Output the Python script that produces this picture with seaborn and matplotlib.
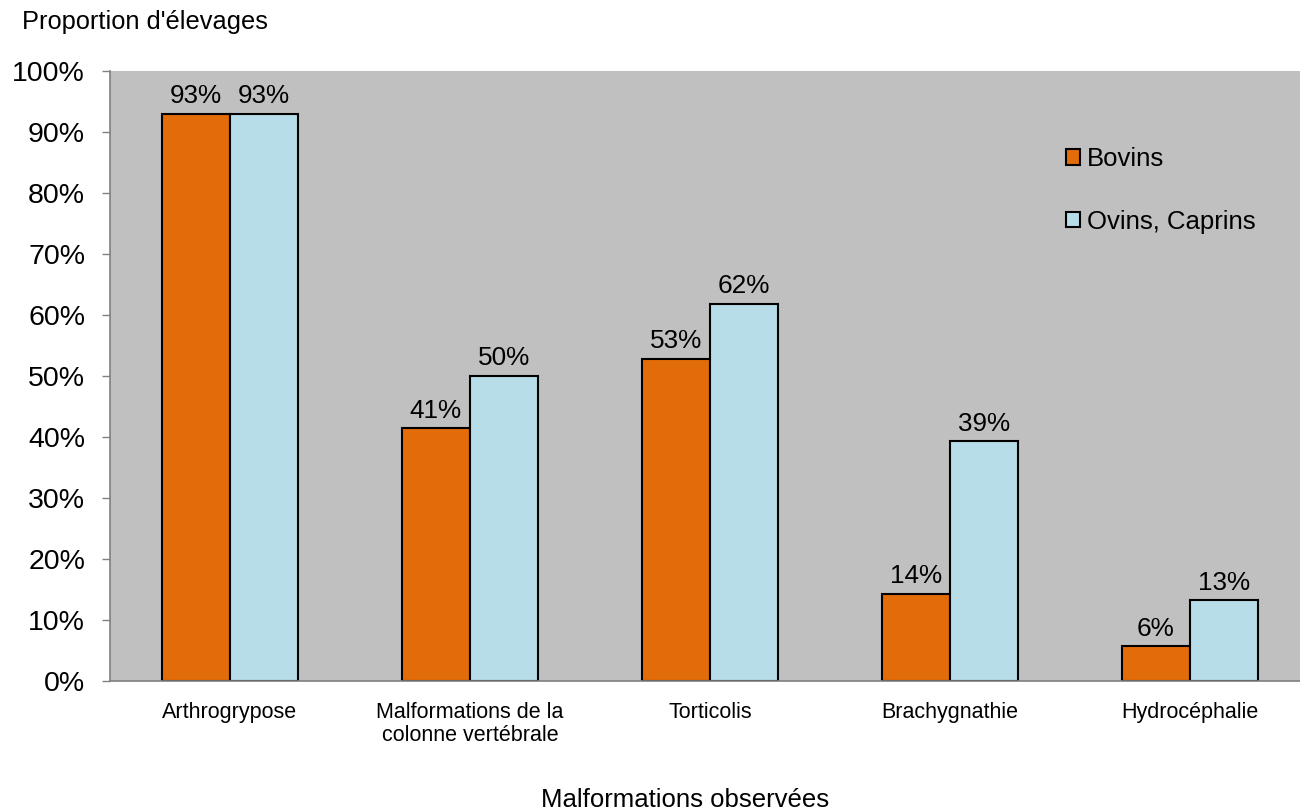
import matplotlib
matplotlib.use("Agg")
import matplotlib.pyplot as plt
import seaborn as sns
import pandas as pd
import numpy as np

categories = ["Arthrogrypose", "Malformations de la\ncolonne vertébrale",
              "Torticolis", "Brachygnathie", "Hydrocéphalie"]
bovins = [93.0, 41.4, 52.8, 14.3, 5.7]
ovins = [93.0, 50.0, 61.8, 39.3, 13.2]
series = ["Bovins", "Ovins, Caprins"]
colors = ["#E36C0A", "#B7DDE8"]
yticks = [0, 10, 20, 30, 40, 50, 60, 70, 80, 90, 100]

df = pd.DataFrame({
    "cat": categories * 2,
    "serie": [series[0]] * len(categories) + [series[1]] * len(categories),
    "val": bovins + ovins,
})

sns.set_theme(style="white")
plt.rcParams['font.family'] = ['Liberation Sans', 'DejaVu Sans']
plt.rcParams['text.color'] = 'black'
plt.rcParams['xtick.color'] = 'black'
plt.rcParams['ytick.color'] = 'black'

fig = plt.figure(figsize=(13, 8.1), dpi=100)
ax = fig.add_axes([110/1300, 1-681/810, 1190/1300, (681-71)/810])
ax.set_facecolor("#C0C0C0")

sns.barplot(data=df, x="cat", y="val", hue="serie", palette=colors,
            width=0.57, edgecolor="black", linewidth=1.5, ax=ax,
            saturation=1, legend=True)

for cont in ax.containers:
    labels = [f"{v:.0f}%" for v in cont.datavalues]
    ax.bar_label(cont, labels=labels, padding=4, fontsize=18.8, color="black")

ax.set_yticks(yticks)
ax.set_yticklabels([f"{t}%" for t in yticks], fontsize=20.5)
ax.set_xticks(range(len(categories)))
ax.set_xticklabels(categories, fontsize=15.5, linespacing=1.15)
ax.set_xticks(np.arange(-0.5, 5, 1), minor=True)
ax.set_ylim(0, 100)
ax.set_xlim(-0.5, 4.5 - 10/240)
ax.tick_params(axis="x", which="major", length=0, pad=15, labelcolor="black")
ax.tick_params(axis="x", which="minor", length=6, color="#808080", width=1, direction="out")
ax.tick_params(axis="y", length=6, color="#808080", width=1, direction="out", left=True,
               pad=12, labelcolor="black")
ax.set_xlabel("")
ax.set_ylabel("")
for s in ["top", "right"]:
    ax.spines[s].set_visible(False)
for s in ["left", "bottom"]:
    ax.spines[s].set_color("#808080")
    ax.spines[s].set_linewidth(1.2)

leg = ax.legend(loc="upper left", bbox_to_anchor=(1066/1300, 1-147/810),
                bbox_transform=fig.transFigure, frameon=False,
                fontsize=18.5, handlelength=0.55, handleheight=0.55,
                handletextpad=0.25, labelspacing=1.5, borderpad=0, borderaxespad=0)
for h in leg.legend_handles:
    h.set_edgecolor("black")
    h.set_linewidth(1.5)
for t in leg.get_texts():
    t.set_color("black")

fig.text(22/1300, 1-22/810, "Proportion d'élevages", fontsize=18.3, va="center", ha="left",
         color="black")
fig.text(685/1300, 1-800/810, "Malformations observées", fontsize=18.5, va="center",
         ha="center", color="black")

fig.savefig("out.png", dpi=100)
